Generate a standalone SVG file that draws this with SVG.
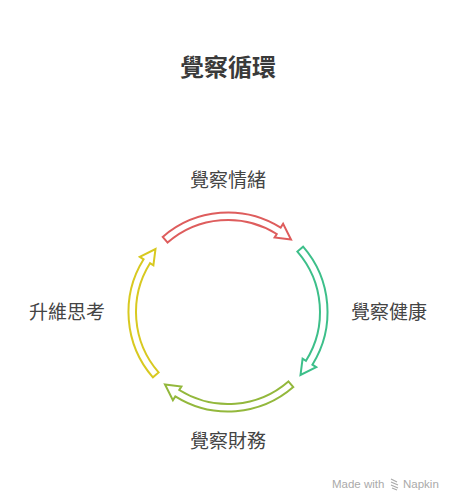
<svg xmlns="http://www.w3.org/2000/svg" width="456" height="504" viewBox="0 0 456 504">
<style>
.lbl{font-family:"Noto Sans CJK TC","Noto Sans CJK SC",sans-serif;font-size:19px;fill:#444;}
.title{font-family:"Noto Sans CJK TC","Noto Sans CJK SC",sans-serif;font-size:24px;font-weight:bold;fill:#3a3a3a;}
.arr{fill:#fff;stroke-width:2;stroke-linejoin:miter;}
.wm{font-family:"Liberation Sans",Arial,sans-serif;font-size:11.5px;fill:#aaa;}
</style>
<defs>
<path id="arc" d="M 162.7 236.9 A 99.5 99.5 0 0 1 280.7 227.6 L 283.1 223.8 L 291 239.5 L 274.6 237.4 L 276.75 234 A 92 92 0 0 0 167.6 242.6 Z"/>
</defs>
<rect width="456" height="504" fill="#fff"/>
<text class="title" x="228" y="76" text-anchor="middle">覺察循環</text>
<g id="connectors">
<use href="#arc" class="arr" stroke="#DE5D5D"/>
<use href="#arc" class="arr" stroke="#3DBF8A" transform="rotate(90 228 312)"/>
<use href="#arc" class="arr" stroke="#93B83C" transform="rotate(180 228 312)"/>
<use href="#arc" class="arr" stroke="#D8C920" transform="rotate(270 228 312)"/>
</g>
<g id="n1"><text class="lbl" x="228" y="187" text-anchor="middle">覺察情緒</text></g>
<g id="n2"><text class="lbl" x="351" y="319">覺察健康</text></g>
<g id="n3"><text class="lbl" x="228" y="448" text-anchor="middle">覺察財務</text></g>
<g id="n4"><text class="lbl" x="105" y="319" text-anchor="end">升維思考</text></g>
<g id="watermark">
<text class="wm" x="332" y="488">Made with</text>
<g stroke="#aaa" stroke-width="1.2" fill="none">
<path d="M391 479 l6 3 M391 482 l7 3 M391 485 l7 3 M392 488 l5 2"/>
</g>
<text class="wm" x="403" y="488">Napkin</text>
</g>
</svg>
